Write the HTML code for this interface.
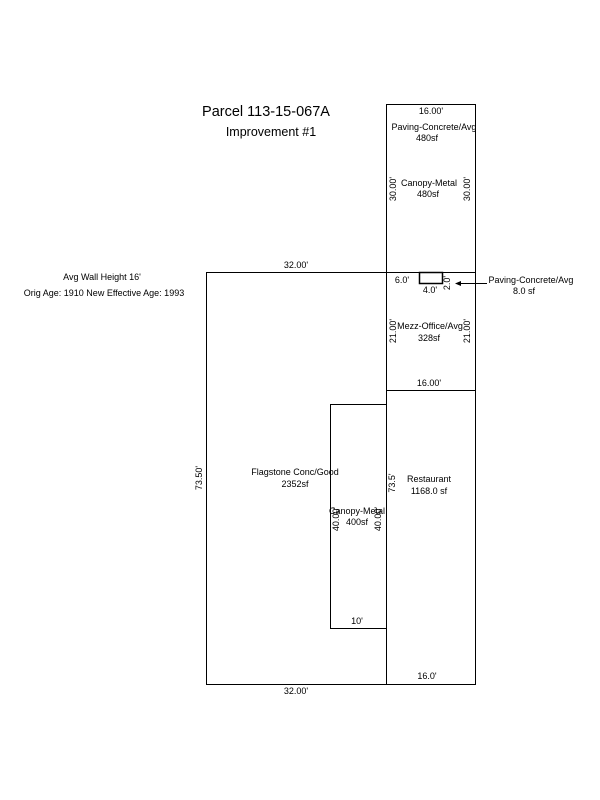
<!DOCTYPE html>
<html><head><meta charset="utf-8"><style>
html,body{margin:0;padding:0;background:#fff;width:600px;height:800px;overflow:hidden}
text{font-family:"Liberation Sans",Arial,sans-serif;fill:#000}
</style></head><body>
<svg width="600" height="800" viewBox="0 0 600 800" xmlns="http://www.w3.org/2000/svg">
<g fill="none" stroke="#000" stroke-width="1">
<rect x="206.5" y="272.5" width="180" height="412"/>
<rect x="386.5" y="104.5" width="89" height="580"/>
<line x1="386.5" y1="272.5" x2="475.5" y2="272.5"/>
<line x1="386.5" y1="390.5" x2="475.5" y2="390.5"/>
<rect x="330.5" y="404.5" width="56" height="224"/>
<rect x="419.5" y="272.5" width="23" height="11" stroke-width="1.5"/>
<line x1="487" y1="283.5" x2="458" y2="283.5"/>
</g>
<path d="M455,283.5 L461,281 L461,286 Z" fill="#000"/>
<g font-size="14.5" text-anchor="middle">
<text x="266" y="116">Parcel 113-15-067A</text>
</g>
<g font-size="12.5" text-anchor="middle">
<text x="271" y="136">Improvement #1</text>
</g>
<g font-size="9" text-anchor="middle">
<text x="102" y="280">Avg Wall Height 16'</text>
<text x="104" y="296">Orig Age: 1910 New Effective Age: 1993</text>
<text x="296" y="268">32.00'</text>
<text x="296" y="694">32.00'</text>
<text x="431" y="114">16.00'</text>
<text x="434" y="130">Paving-Concrete/Avg</text>
<text x="427" y="141">480sf</text>
<text x="429" y="186">Canopy-Metal</text>
<text x="428" y="197">480sf</text>
<text x="402" y="283">6.0'</text>
<text x="430" y="293">4.0'</text>
<text x="531" y="283">Paving-Concrete/Avg</text>
<text x="524" y="294">8.0 sf</text>
<text x="430" y="329">Mezz-Office/Avg</text>
<text x="429" y="341">328sf</text>
<text x="429" y="386">16.00'</text>
<text x="295" y="475">Flagstone Conc/Good</text>
<text x="295" y="487">2352sf</text>
<text x="429" y="482">Restaurant</text>
<text x="429" y="494">1168.0 sf</text>
<text x="357" y="514">Canopy-Metal</text>
<text x="357" y="525">400sf</text>
<text x="357" y="624">10'</text>
<text x="427" y="679">16.0'</text>
<text transform="translate(396,189) rotate(-90)">30.00'</text>
<text transform="translate(470,189) rotate(-90)">30.00'</text>
<text transform="translate(450,283) rotate(-90)">2.0'</text>
<text transform="translate(396,331) rotate(-90)">21.00'</text>
<text transform="translate(470,331) rotate(-90)">21.00'</text>
<text transform="translate(202,478) rotate(-90)">73.50'</text>
<text transform="translate(395,483) rotate(-90)">73.5'</text>
<text transform="translate(339,519) rotate(-90)">40.00'</text>
<text transform="translate(381,519) rotate(-90)">40.00'</text>
</g>
</svg>
</body></html>
